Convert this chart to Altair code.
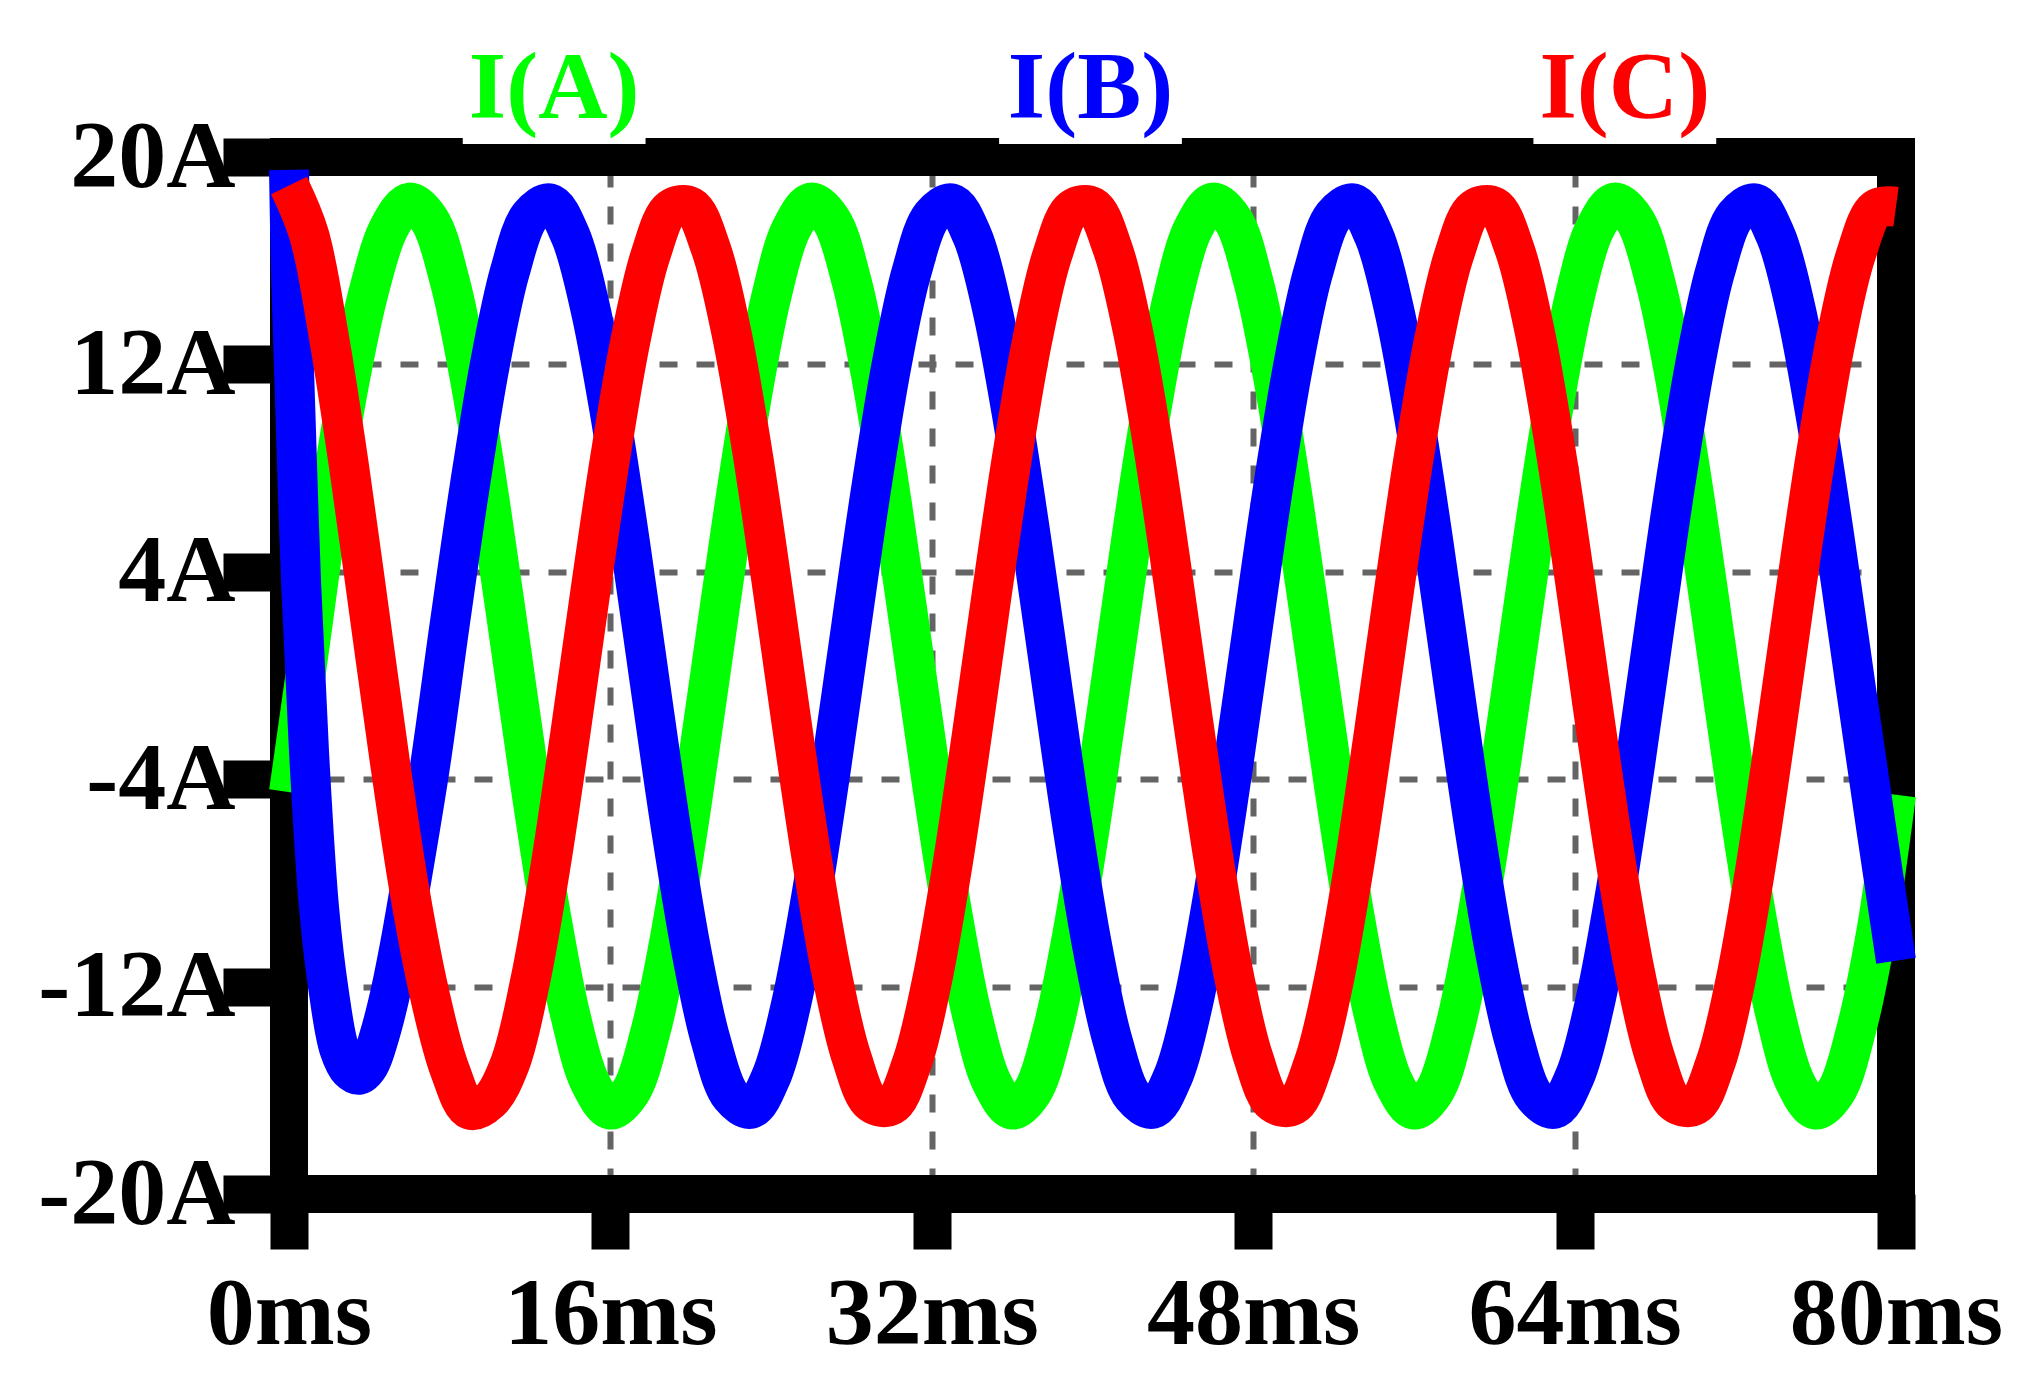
import altair as alt
import pandas as pd

# ---- data ----
t_ms = list(range(0, 81))

# I(A) green
i_a = [-4.5, 1.0, 6.6, 11.3, 14.9, 17.3, 18.24, 17.56, 15.22, 11.48, 6.68, 1.30, -4.13, -9.09, -13.08, -15.72, -16.74, -16.06, -13.72, -9.98,
       -5.18, 0.20, 5.63, 10.59, 14.58, 17.22, 18.24, 17.56, 15.22, 11.48, 6.68, 1.30, -4.13, -9.09, -13.08, -15.72, -16.74, -16.06, -13.72, -9.98,
       -5.18, 0.20, 5.63, 10.59, 14.58, 17.22, 18.24, 17.56, 15.22, 11.48, 6.68, 1.30, -4.13, -9.09, -13.08, -15.72, -16.74, -16.06, -13.72, -9.98,
       -5.18, 0.20, 5.63, 10.59, 14.58, 17.22, 18.24, 17.56, 15.22, 11.48, 6.68, 1.30, -4.13, -9.09, -13.08, -15.72, -16.74, -16.06, -13.72, -9.98,
       -4.6]

# I(B) blue (denser sampling over the start-up transient)
t_b = [0, 0.1, 0.3, 0.6, 1.0, 1.5, 2.0, 2.5, 3.0, 3.5, 4.0, 4.5, 5.0, 5.5, 6.0, 7.0] + list(range(8, 81))
i_b = [19.5, 15.5, 10.6, 3.6, -3.0, -9.0, -12.3, -14.4, -15.2, -15.4, -15.0, -13.9, -12.4, -10.5, -8.3, -3.6,
       1.97, 7.31, 12.00, 15.59, 17.73, 18.21, 16.98, 14.16, 10.02, 4.98, -0.47, -5.81,
       -10.50, -14.09, -16.23, -16.71, -15.48, -12.66, -8.52, -3.48, 1.97, 7.31, 12.00, 15.59, 17.73, 18.21, 16.98, 14.16, 10.02, 4.98, -0.47, -5.81,
       -10.50, -14.09, -16.23, -16.71, -15.48, -12.66, -8.52, -3.48, 1.97, 7.31, 12.00, 15.59, 17.73, 18.21, 16.98, 14.16, 10.02, 4.98, -0.47, -5.81,
       -10.50, -14.09, -16.23, -16.71, -15.48, -12.66, -8.52, -3.48, 1.97, 7.31, 12.00, 15.59, 17.73, 18.21, 16.98, 14.16, 10.02, 4.98, -0.47, -5.81,
       -11.0]

# I(C) red
i_c = [18.9, 17.0, 13.0, 8.0, 2.4, -3.2, -8.3, -12.3, -15.2, -16.75, -16.4, -14.97, -11.82, -7.44, -2.26, 3.22, 8.45, 12.93, 16.22, 17.99,
       18.08, 16.47, 13.32, 8.94, 3.76, -1.72, -6.95, -11.43, -14.72, -16.49, -16.58, -14.97, -11.82, -7.44, -2.26, 3.22, 8.45, 12.93, 16.22, 17.99,
       18.08, 16.47, 13.32, 8.94, 3.76, -1.72, -6.95, -11.43, -14.72, -16.49, -16.58, -14.97, -11.82, -7.44, -2.26, 3.22, 8.45, 12.93, 16.22, 17.99,
       18.08, 16.47, 13.32, 8.94, 3.76, -1.72, -6.95, -11.43, -14.72, -16.49, -16.58, -14.97, -11.82, -7.44, -2.26, 3.22, 8.45, 12.93, 16.22, 17.99,
       18.08]

x_ticks = [0, 16, 32, 48, 64, 80]
y_ticks = [-20, -12, -4, 4, 12, 20]

legend_labels = ["I(A)", "I(B)", "I(C)"]
legend_colors = ["#00ff00", "#0000ff", "#ff0000"]
legend_t = [13.2, 39.9, 66.5]
legend_i = [21.5, 21.5, 21.5]

# ---- tables ----
df_a = pd.DataFrame({"t": t_ms, "i": i_a})
df_b = pd.DataFrame({"t": t_b, "i": i_b})
df_c = pd.DataFrame({"t": t_ms, "i": i_c})
df_leg = pd.DataFrame({"label": legend_labels, "c": legend_colors, "t": legend_t, "i": legend_i})
df_frame = pd.DataFrame({"x": [0], "x2": [80], "y": [-20], "y2": [20]})

FONT = "Liberation Serif"

x_scale = alt.Scale(domain=[0, 80], nice=False, zero=False)
y_scale = alt.Scale(domain=[-20, 20], nice=False, zero=False)

x_axis = alt.Axis(values=x_ticks, labelExpr="datum.value + 'ms'", title=None,
                  domain=False, ticks=True, tickSize=55, tickWidth=38, tickColor="black",
                  labelFont=FONT, labelFontSize=96, labelFontWeight="bold", labelColor="black",
                  labelPadding=94, labelBaseline="alphabetic", labelFlush=False, labelOverlap=False,
                  labelLimit=0,
                  grid=True, gridColor="#646464", gridWidth=6, gridDash=[18, 19], gridDashOffset=25,
                  gridOpacity=1, zindex=0)
y_axis = alt.Axis(values=y_ticks, labelExpr="datum.value + 'A'", title=None,
                  domain=False, ticks=True, tickSize=66, tickWidth=38, tickColor="black",
                  labelFont=FONT, labelFontSize=96, labelFontWeight="bold", labelColor="black",
                  labelPadding=-12, labelAlign="right", labelBaseline="middle", labelOverlap=False,
                  labelLimit=0,
                  grid=True, gridColor="#646464", gridWidth=6, gridDash=[18, 19], gridOpacity=1,
                  zindex=0)

frame = alt.Chart(df_frame).mark_rect(filled=False, stroke="black", color="black", strokeWidth=38).encode(
    x=alt.X("x:Q", scale=x_scale, axis=x_axis),
    x2="x2:Q",
    y=alt.Y("y:Q", scale=y_scale, axis=y_axis),
    y2="y2:Q",
)

boxes = alt.Chart(df_leg).transform_calculate(
    x1="datum.t - 4.55", x2="datum.t + 4.55", y1="20.5", y2="26"
).mark_rect(color="white").encode(
    x=alt.X("x1:Q", scale=x_scale, axis=x_axis),
    x2="x2:Q",
    y=alt.Y("y1:Q", scale=y_scale, axis=y_axis),
    y2="y2:Q",
)


def wave(df, color):
    return alt.Chart(df).mark_line(color=color, strokeWidth=40, interpolate="catmull-rom").encode(
        x=alt.X("t:Q", scale=x_scale, axis=x_axis),
        y=alt.Y("i:Q", scale=y_scale, axis=y_axis),
    )


titles = alt.Chart(df_leg).mark_text(font=FONT, fontSize=96, fontWeight="bold",
                                     align="center", baseline="alphabetic").encode(
    x=alt.X("t:Q", scale=x_scale, axis=x_axis),
    y=alt.Y("i:Q", scale=y_scale, axis=y_axis),
    text="label:N",
    color=alt.Color("c:N", scale=None),
)

chart = alt.layer(
    frame, boxes,
    wave(df_a, legend_colors[0]),
    wave(df_b, legend_colors[1]),
    wave(df_c, legend_colors[2]),
    titles,
).properties(
    width=1607, height=1037,
    autosize=alt.AutoSizeParams(type="none"),
    padding={"left": 281, "top": 149, "right": 126, "bottom": 191},
    background="white",
).configure_view(stroke=None)

chart.save("out.html", embed_options={"renderer": "svg", "actions": False})
